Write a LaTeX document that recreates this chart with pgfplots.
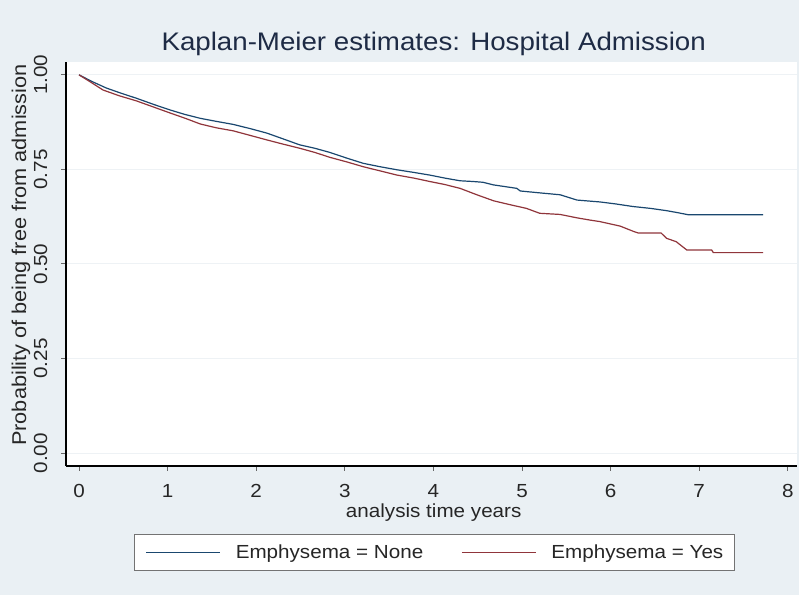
\documentclass[border=0pt]{standalone}
\usepackage{pgfplots}
\pgfplotsset{compat=1.18}
\usepackage{fontspec}
\setmainfont[FakeStretch=1.09]{Liberation Sans}
\definecolor{bgcol}{HTML}{EAF0F4}
\definecolor{gridcol}{HTML}{EEF2F5}
\definecolor{kmblue}{HTML}{1A476F}
\definecolor{kmred}{HTML}{90353B}
\definecolor{titlecol}{HTML}{1E2B45}
\begin{document}
\begin{tikzpicture}[x=1bp,y=1bp]
\fill[bgcol] (0,0) rectangle (799,595);
\begin{axis}[
  at={(66bp,129bp)}, anchor=south west,
  scale only axis, width=731bp, height=404bp,
  xmin=-0.147, xmax=8.104, ymin=-0.034, ymax=1.034,
  axis lines=left,
  axis line style={black, line width=1.3bp, -},
  axis background/.style={fill=white},
  xtick={0,1,2,3,4,5,6,7,8},
  ytick={0,0.25,0.5,0.75,1},
  yticklabels={0.00,0.25,0.50,0.75,1.00},
  /pgf/number format/assume math mode=true,
  tick align=outside, major tick length=5bp,
  tick style={black!60, line width=1bp},
  ymajorgrids, grid style={gridcol, line width=1bp},
  tick label style={font=\fontsize{19}{22}\selectfont, text=black!85},
  yticklabel style={xshift=-14bp, rotate=90, anchor=base, inner sep=0pt},
  xticklabel style={yshift=-26.5bp, anchor=base, inner sep=0pt},
  title={Kaplan-Meier estimates: Hospital Admission},
  title style={font=\fontsize{25.5}{30}\selectfont, text=titlecol, anchor=base, at={(axis description cs:0.503,1)}, yshift=6bp, inner sep=0pt},
  xlabel={analysis time years},
  xlabel style={font=\fontsize{19}{22}\selectfont, text=black!85, anchor=base, at={(axis description cs:0.503,-0.128)}, inner sep=0pt},
  ylabel={Probability of being free from admission},
  ylabel style={font=\fontsize{20}{23}\selectfont, text=black!85, anchor=base, at={(axis description cs:-0.0547,0.522)}, inner sep=0pt},
  legend columns=2,
  legend style={at={(axis description cs:0.504,-0.214)}, anchor=center, draw=black!55, line width=0.8bp, fill=white,
    font=\fontsize{19}{22}\selectfont, text=black!85, inner xsep=11bp, inner ysep=10bp,
    nodes={inner sep=0pt},
    /tikz/every odd column/.append style={column sep=15bp},
    /tikz/every even column/.append style={column sep=38bp}},
  legend image code/.code={\draw[#1] (0bp,0bp) -- (74bp,0bp);},
]
\addplot[kmblue, line width=1.2bp] coordinates {
(0,1.000) (0.15,0.982) (0.31,0.965) (0.48,0.951) (0.65,0.938) (0.84,0.922)
(1.03,0.907) (1.20,0.895) (1.37,0.885) (1.55,0.877) (1.74,0.869) (1.93,0.858)
(2.12,0.846) (2.30,0.831) (2.49,0.815) (2.66,0.806) (2.83,0.795) (3.02,0.780)
(3.21,0.766) (3.40,0.757) (3.59,0.749) (3.78,0.742) (3.96,0.735) (4.13,0.727)
(4.30,0.720) (4.45,0.718) (4.56,0.716) (4.68,0.709) (4.94,0.700) (4.98,0.693)
(5.20,0.688) (5.43,0.683) (5.62,0.669) (5.88,0.664) (6.05,0.659) (6.25,0.652)
(6.45,0.647) (6.63,0.641) (6.75,0.636) (6.88,0.630) (7.72,0.630)
};
\addlegendentry{Emphysema = None}
\addplot[kmred, line width=1.2bp] coordinates {
(0,1.000) (0.15,0.978) (0.27,0.960) (0.45,0.945) (0.65,0.931) (0.84,0.915)
(1.03,0.899) (1.20,0.885) (1.37,0.870) (1.55,0.860) (1.74,0.852) (1.93,0.840)
(2.12,0.828) (2.30,0.817) (2.49,0.806) (2.66,0.795) (2.83,0.782) (3.02,0.770)
(3.21,0.757) (3.40,0.746) (3.59,0.735) (3.78,0.727) (3.96,0.718) (4.13,0.710)
(4.30,0.700) (4.49,0.683) (4.68,0.667) (4.86,0.657) (5.05,0.647) (5.20,0.634)
(5.43,0.631) (5.62,0.622) (5.77,0.616) (5.88,0.612) (6.11,0.600) (6.26,0.586)
(6.31,0.582) (6.57,0.582) (6.63,0.568) (6.74,0.559) (6.86,0.537) (7.14,0.537)
(7.16,0.530) (7.72,0.530)
};
\addlegendentry{Emphysema = Yes}
\end{axis}
\pgfresetboundingbox
\path (0,0) rectangle (799,595);
\end{tikzpicture}
\end{document}
